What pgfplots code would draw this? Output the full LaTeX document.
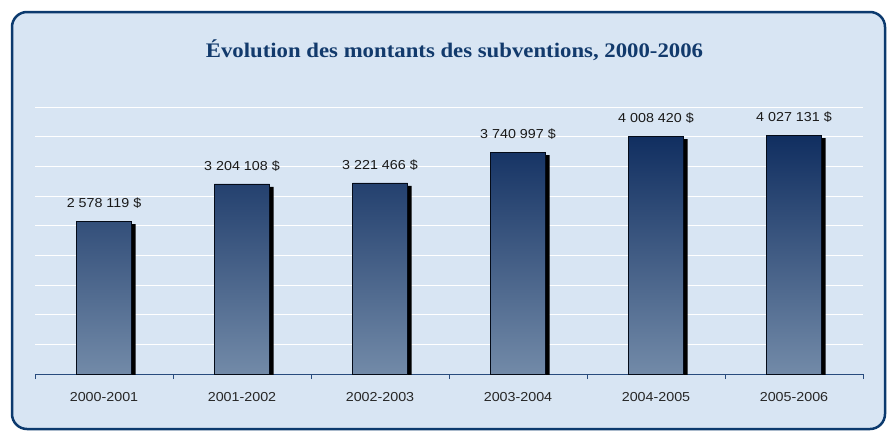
\documentclass[border=0pt]{standalone}
\usepackage{fontspec}
\setmainfont{Liberation Sans}[FakeStretch=1.1]
\newfontfamily\titlefont{Liberation Serif}[FakeStretch=1.1]
\usepackage{pgfplots}
\pgfplotsset{compat=1.18}
\definecolor{framecol}{RGB}{12,58,110}
\definecolor{bgcol}{RGB}{216,229,243}
\definecolor{bartop}{RGB}{16,46,96}
\definecolor{barbot}{RGB}{114,138,168}
\definecolor{axiscol}{RGB}{40,75,125}
\definecolor{titlecol}{RGB}{18,58,108}
\begin{document}
\begin{tikzpicture}
\path[use as bounding box, fill=white] (0pt,0pt) rectangle (892pt,-432pt);
\draw[framecol, line width=2.5pt, fill=bgcol, rounded corners=15pt] (12pt,-12pt) rectangle (885pt,-429pt);
\node[anchor=base, font=\titlefont\bfseries\fontsize{20.7}{24}\selectfont, text=titlecol, inner sep=0pt] at (454.5pt,-57pt) {Évolution des montants des subventions, 2000-2006};
\begin{axis}[
  at={(35pt,-374pt)}, anchor=south west, scale only axis,
  width=828pt, height=267pt,
  xmin=-0.5, xmax=5.5, ymin=0, ymax=4500000,
  axis x line*=bottom, axis y line*=left,
  y axis line style={draw=none},
  x axis line style={axiscol, line width=0.8pt},
  ytick={500000,1000000,1500000,2000000,2500000,3000000,3500000,4000000,4500000},
  yticklabels={}, ytick style={draw=none},
  ymajorgrids, major grid style={white, line width=0.8pt},
  xtick={0,1,2,3,4,5},
  xticklabels={2000-2001,2001-2002,2002-2003,2003-2004,2004-2005,2005-2006},
  minor xtick={-0.5,0.5,1.5,2.5,3.5,4.5,5.5},
  tick align=outside, major tick length=0pt, minor tick length=5pt,
  every minor tick/.append style={axiscol, line width=0.8pt},
  xticklabel style={anchor=north, yshift=-18.5pt, inner sep=0pt, font=\fontsize{13}{15}\selectfont, text=black!85},
  scaled y ticks=false,
]
\addplot[ybar, bar width=55pt, bar shift=4pt, fill=black, draw=none, yshift=-3pt, forget plot]
  coordinates {(0,2578119) (1,3204108) (2,3221466) (3,3740997) (4,4008420) (5,4027131)};
\addplot[ybar, bar width=55pt, bar shift=0pt, draw=black!75!bartop, line width=0.6pt,
  top color=bartop, bottom color=barbot,
  nodes near coords, point meta=explicit symbolic,
  every node near coord/.append style={anchor=south, yshift=12pt, inner sep=0pt, fill=none, draw=none, text=black!90, font=\fontsize{13}{15}\selectfont}]
  coordinates {(0,2578119) [2 578 119 \$] (1,3204108) [3 204 108 \$] (2,3221466) [3 221 466 \$] (3,3740997) [3 740 997 \$] (4,4008420) [4 008 420 \$] (5,4027131) [4 027 131 \$]};
\end{axis}
\end{tikzpicture}
\end{document}
